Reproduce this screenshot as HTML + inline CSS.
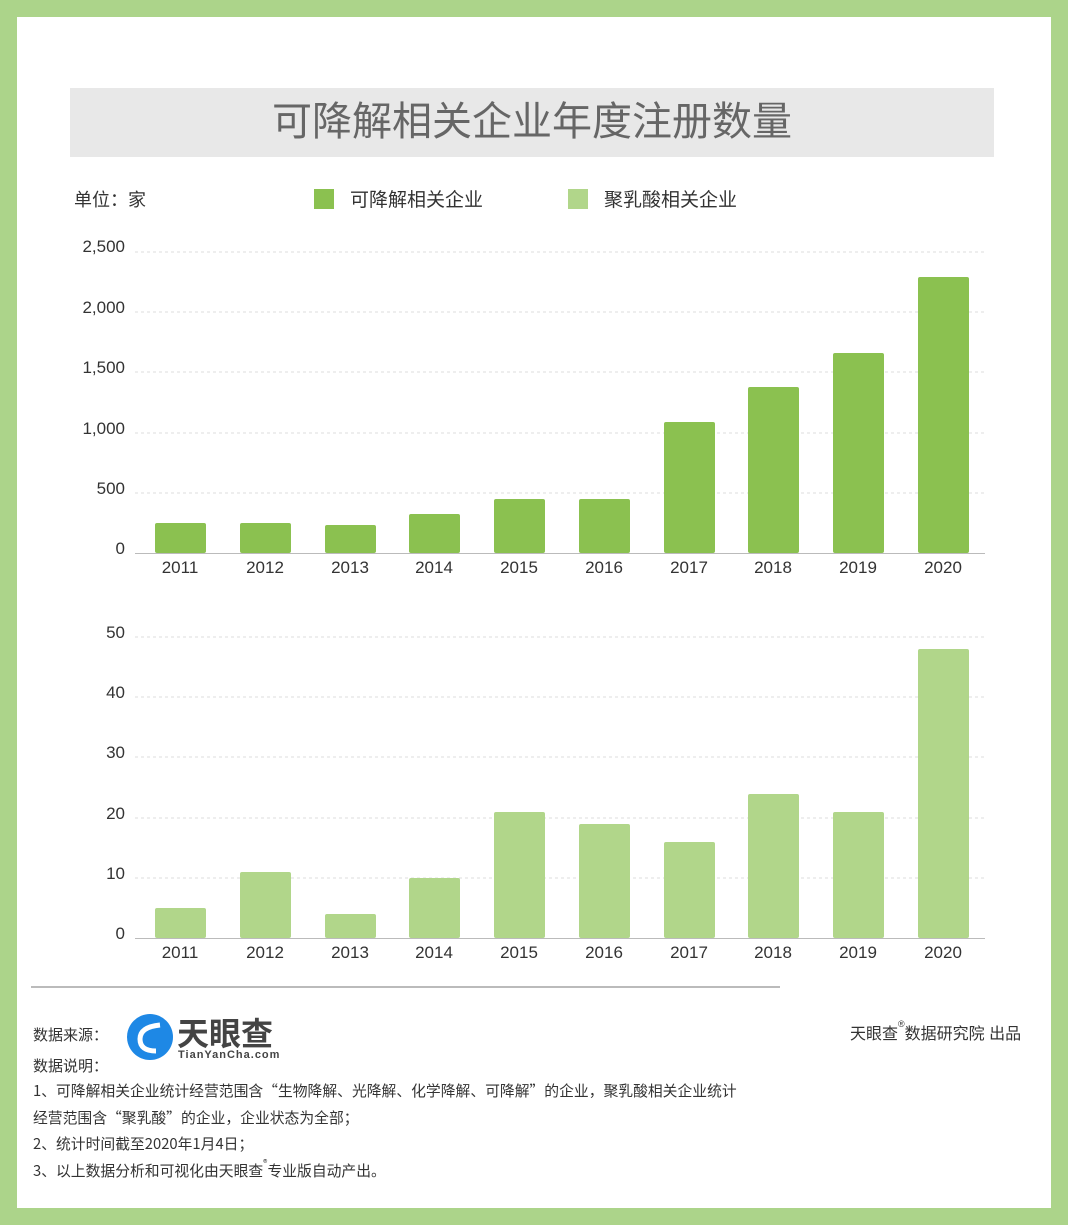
<!DOCTYPE html><html><head><meta charset="utf-8"><style>
body{margin:0;width:1068px;height:1225px;position:relative;background:#fff;font-family:"Liberation Sans","Noto Sans CJK SC",sans-serif;overflow:hidden}
.a{position:absolute}
sup{font-size:9px;vertical-align:top;line-height:1}
</style></head><body>
<div class="a" style="left:0;top:0;width:1068px;height:1225px;box-sizing:border-box;border:17px solid #acd48a"></div>
<div class="a" style="left:70px;top:88px;width:924px;height:69px;background:#e8e8e8;text-align:center;line-height:69px;font-size:40px;color:#666">可降解相关企业年度注册数量</div>
<div class="a" style="left:74px;top:186px;font-size:18px;color:#333">单位：家</div>
<div class="a" style="left:314px;top:189px;width:20px;height:20px;background:#8bc150"></div>
<div class="a" style="left:350px;top:185px;font-size:19px;color:#333">可降解相关企业</div>
<div class="a" style="left:568px;top:189px;width:20px;height:20px;background:#b1d68a"></div>
<div class="a" style="left:604px;top:185px;font-size:19px;color:#333">聚乳酸相关企业</div>
<svg class="a" style="left:0;top:0" width="1068" height="1225" font-family="Liberation Sans, Noto Sans CJK SC, sans-serif">
<g stroke="#ddd" stroke-dasharray="3,3">
<line x1="135" x2="985" y1="252" y2="252"/><line x1="135" x2="985" y1="312" y2="312"/><line x1="135" x2="985" y1="372" y2="372"/><line x1="135" x2="985" y1="433" y2="433"/><line x1="135" x2="985" y1="493" y2="493"/>
<line x1="135" x2="985" y1="637" y2="637"/><line x1="135" x2="985" y1="697" y2="697"/><line x1="135" x2="985" y1="757" y2="757"/><line x1="135" x2="985" y1="818" y2="818"/><line x1="135" x2="985" y1="878" y2="878"/>
</g>
<line x1="135" x2="985" y1="553.5" y2="553.5" stroke="#bbb"/>
<line x1="135" x2="985" y1="938.5" y2="938.5" stroke="#bbb"/>
<g font-size="17" fill="#333" text-anchor="end">
<text x="125" y="252">2,500</text><text x="125" y="313">2,000</text><text x="125" y="373">1,500</text><text x="125" y="434">1,000</text><text x="125" y="494">500</text><text x="125" y="554">0</text>
<text x="125" y="638">50</text><text x="125" y="698">40</text><text x="125" y="758">30</text><text x="125" y="819">20</text><text x="125" y="879">10</text><text x="125" y="939">0</text>
</g>
<g fill="#8bc150">
<rect x="155" y="523" width="51" height="30" rx="2"/><rect x="240" y="523" width="51" height="30" rx="2"/><rect x="325" y="525" width="51" height="28" rx="2"/><rect x="409" y="514" width="51" height="39" rx="2"/><rect x="494" y="499" width="51" height="54" rx="2"/><rect x="579" y="499" width="51" height="54" rx="2"/><rect x="664" y="422" width="51" height="131" rx="2"/><rect x="748" y="387" width="51" height="166" rx="2"/><rect x="833" y="353" width="51" height="200" rx="2"/><rect x="918" y="277" width="51" height="276" rx="2"/>
</g>
<g fill="#b1d68a">
<rect x="155" y="908" width="51" height="30" rx="2"/><rect x="240" y="872" width="51" height="66" rx="2"/><rect x="325" y="914" width="51" height="24" rx="2"/><rect x="409" y="878" width="51" height="60" rx="2"/><rect x="494" y="812" width="51" height="126" rx="2"/><rect x="579" y="824" width="51" height="114" rx="2"/><rect x="664" y="842" width="51" height="96" rx="2"/><rect x="748" y="794" width="51" height="144" rx="2"/><rect x="833" y="812" width="51" height="126" rx="2"/><rect x="918" y="649" width="51" height="289" rx="2"/>
</g>
<g font-size="17" fill="#333" text-anchor="middle">
<text x="180" y="573">2011</text><text x="265" y="573">2012</text><text x="350" y="573">2013</text><text x="434" y="573">2014</text><text x="519" y="573">2015</text><text x="604" y="573">2016</text><text x="689" y="573">2017</text><text x="773" y="573">2018</text><text x="858" y="573">2019</text><text x="943" y="573">2020</text>
<text x="180" y="958">2011</text><text x="265" y="958">2012</text><text x="350" y="958">2013</text><text x="434" y="958">2014</text><text x="519" y="958">2015</text><text x="604" y="958">2016</text><text x="689" y="958">2017</text><text x="773" y="958">2018</text><text x="858" y="958">2019</text><text x="943" y="958">2020</text>
</g>
<line x1="31" x2="780" y1="987" y2="987" stroke="#bbb" stroke-width="2"/>
<circle cx="150" cy="1037" r="23" fill="#1e88e5"/>
<path d="M160 1025 q-20 2 -20 14 q0 12 16 12" stroke="#fff" stroke-width="5" fill="none"/>
<text x="177" y="1045" font-size="32" font-weight="bold" fill="#444">天眼查</text>
<text x="178" y="1058" font-size="11" font-weight="bold" fill="#444" letter-spacing="1">TianYanCha.com</text>
</svg>
<div class="a" style="left:33px;top:1024px;font-size:15px;color:#333">数据来源：</div>
<div class="a" style="left:33px;top:1055px;font-size:15px;color:#333">数据说明：</div>
<div class="a" style="left:33px;top:1078px;font-size:14.8px;color:#333;line-height:26.7px;font-family:'Noto Sans CJK SC',sans-serif;white-space:nowrap">1、可降解相关企业统计经营范围含“生物降解、光降解、化学降解、可降解”的企业，聚乳酸相关企业统计<br>经营范围含“聚乳酸”的企业，企业状态为全部；<br>2、统计时间截至2020年1月4日；<br>3、以上数据分析和可视化由天眼查<sup>®</sup>专业版自动产出。</div>
<div class="a" style="left:850px;top:1020px;font-size:16px;color:#333">天眼查<sup>®</sup>数据研究院 出品</div>
</body></html>
